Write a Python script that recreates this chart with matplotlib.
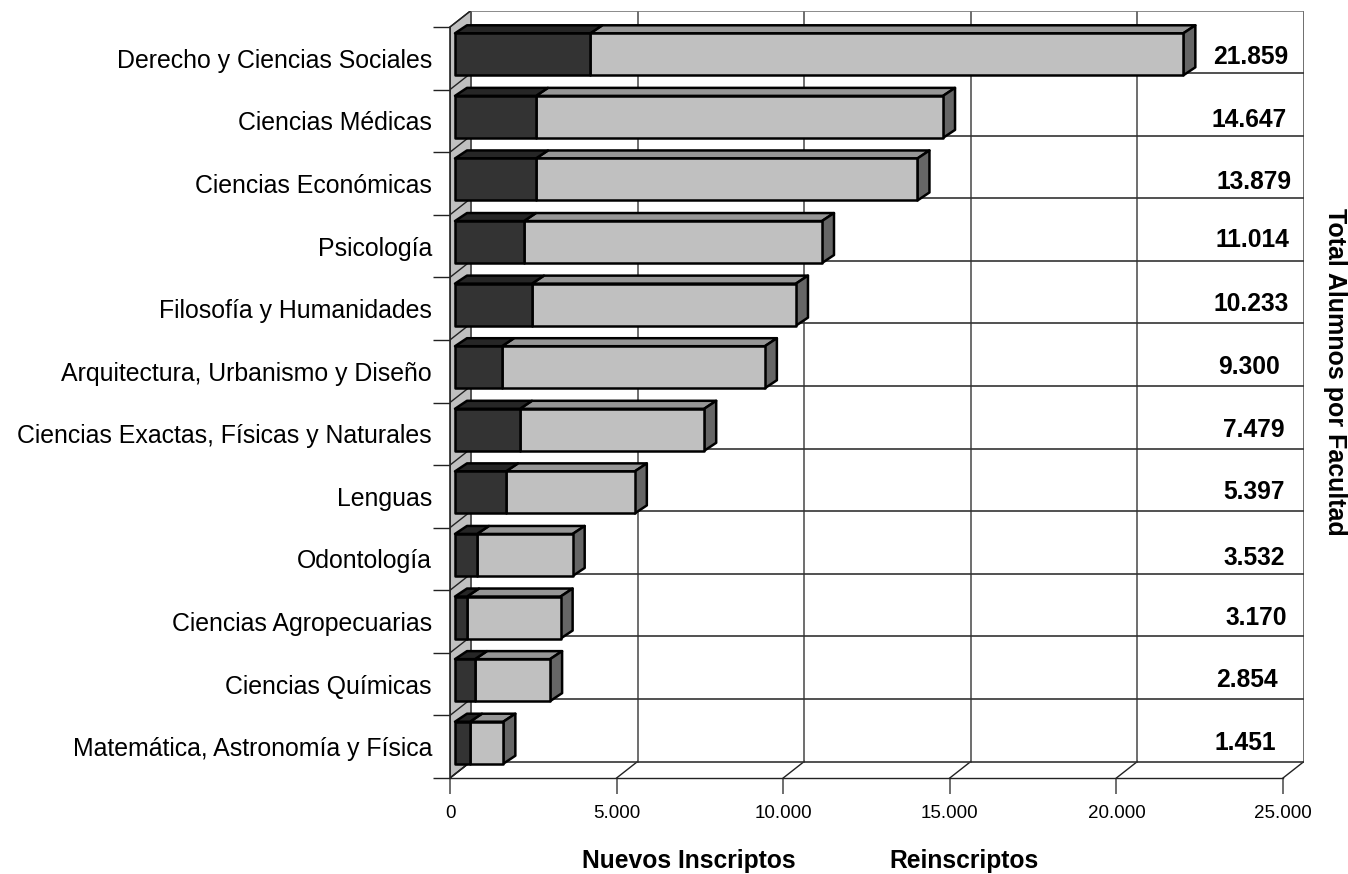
import matplotlib
matplotlib.use("Agg")
import matplotlib.pyplot as plt
from matplotlib.patches import Polygon

plt.rcParams['font.family'] = ['Liberation Sans', 'DejaVu Sans']

facultades = ['Derecho y Ciencias Sociales', 'Ciencias Médicas', 'Ciencias Económicas',
              'Psicología', 'Filosofía y Humanidades', 'Arquitectura, Urbanismo y Diseño',
              'Ciencias Exactas, Físicas y Naturales', 'Lenguas', 'Odontología',
              'Ciencias Agropecuarias', 'Ciencias Químicas', 'Matemática, Astronomía y Física']
nuevos = [4060, 2430, 2430, 2070, 2310, 1410, 1950, 1530, 660, 360, 600, 450]
reinscriptos = [17799, 12217, 11449, 8944, 7923, 7890, 5529, 3867, 2872, 2810, 2254, 1001]
totales = ['21.859', '14.647', '13.879', '11.014', '10.233', '9.300',
           '7.479', '5.397', '3.532', '3.170', '2.854', '1.451']
xticks = [0, 5000, 10000, 15000, 20000, 25000]
xticklabels = ['0', '5.000', '10.000', '15.000', '20.000', '25.000']

# where the total labels sit in the picture (pixels)
total_x = [1251, 1249, 1254, 1252, 1251, 1249, 1254, 1254, 1254, 1256, 1247, 1245]
total_y = [57, 120, 182, 240, 304, 367, 430, 492, 558, 618, 680, 743]

W, H = 1348, 874
fig = plt.figure(figsize=(W / 100, H / 100), dpi=100)
ax = fig.add_axes([450 / W, 1 - 778 / H, 854 / W, 767 / H])

px_x = 25000 / 833      # value units per pixel
px_y = 12 / 751         # category units per pixel
ax.set_xlim(0, 854 * px_x)
ax.set_ylim(12, -16 * px_y)

wall_dx, wall_dy = 21 * px_x, 16.5 * px_y

# side wall
ax.add_patch(Polygon([(0, 0), (wall_dx, -wall_dy), (wall_dx, 12 - wall_dy), (0, 12)],
                     fc='#c0c0c0', ec='#222222', lw=1, zorder=1))

# grid on the back wall, and its continuation over floor and side wall
for v in xticks:
    ax.plot([v + wall_dx] * 2, [-wall_dy, 12 - wall_dy], color='#555555', lw=1.2, zorder=1.5)
    ax.plot([v, v + wall_dx], [12, 12 - wall_dy], color='#222222', lw=1, zorder=1.5)
for i in range(13):
    ax.plot([wall_dx, 25000 + wall_dx], [i - wall_dy] * 2,
            color='#777777' if i == 0 else '#333333', lw=1.2, zorder=1.5)
    ax.plot([0, wall_dx], [i, i - wall_dy], color='#222222', lw=1, zorder=1.5)


def box(x0, x1, yc, front, top, side, z):
    x0, x1 = x0 + 5 * px_x, x1 + 5 * px_x
    yc = yc - 4 * px_y
    h = 21 * px_y
    dx, dy = 12 * px_x, 8 * px_y
    style = dict(ec='black', lw=1.8, joinstyle='round', zorder=z)
    ax.add_patch(Polygon([(x0, yc - h), (x0 + dx, yc - h - dy), (x1 + dx, yc - h - dy), (x1, yc - h)],
                         fc=top, **style))
    if side is not None:
        ax.add_patch(Polygon([(x1, yc - h), (x1 + dx, yc - h - dy), (x1 + dx, yc + h - dy), (x1, yc + h)],
                             fc=side, **style))
    ax.add_patch(Polygon([(x0, yc - h), (x1, yc - h), (x1, yc + h), (x0, yc + h)],
                         fc=front, **style))


for i, (n, r) in enumerate(zip(nuevos, reinscriptos)):
    box(n, n + r, i + 0.5, '#c0c0c0', '#969696', '#666666', 3 + i * 0.01)
    box(0, n, i + 0.5, '#333333', '#262626', None, 3.005 + i * 0.01)

# axes
for s in ['top', 'right']:
    ax.spines[s].set_visible(False)
ax.spines['left'].set_bounds(0, 12)
ax.spines['bottom'].set_bounds(0, 25000)
ax.spines['left'].set_color('#222222')
ax.spines['bottom'].set_color('#222222')
ax.spines['left'].set_linewidth(1.2)
ax.spines['bottom'].set_linewidth(1)

ax.set_xticks(xticks)
ax.set_xticklabels(xticklabels, fontsize=13.5)
ax.tick_params(axis='x', length=11.5, width=1.2, color='#555555', pad=8)
ax.set_yticks([i + 0.5 for i in range(12)])
ax.set_yticklabels(facultades, fontsize=17.9)
ax.set_yticks(list(range(13)), minor=True)
ax.tick_params(axis='y', which='major', length=0, pad=13)
ax.tick_params(axis='y', which='minor', length=12, width=1, color='#222222')

for t, x, y in zip(totales, total_x, total_y):
    fig.text(x / W, 1 - y / H, t, fontsize=17.7, fontweight='bold', ha='center', va='center')

fig.text(689 / W, 1 - 861 / H, 'Nuevos Inscriptos', fontsize=17.7, fontweight='bold', ha='center', va='center')
fig.text(964 / W, 1 - 861 / H, 'Reinscriptos', fontsize=17.7, fontweight='bold', ha='center', va='center')
fig.text(1335 / W, 1 - 372 / H, 'Total Alumnos por Facultad', fontsize=18, fontweight='bold',
         rotation=270, ha='center', va='center')

fig.savefig('out.png', dpi=100)
